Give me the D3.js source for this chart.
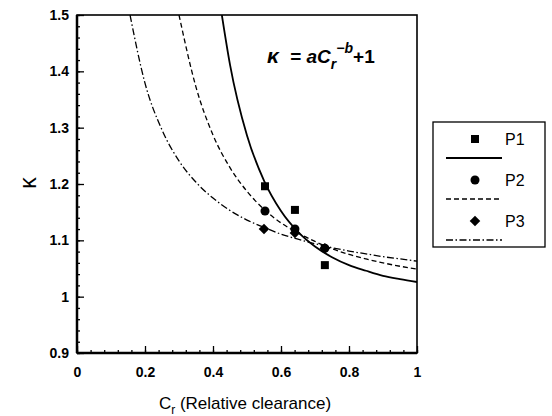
<!DOCTYPE html>
<html>
<head>
<meta charset="utf-8">
<script src="https://cdn.jsdelivr.net/npm/d3@7"></script>
<style>
  body { margin: 0; background: #fff; }
  text { font-family: "Liberation Sans", Arial, sans-serif; fill: #000; }
</style>
</head>
<body>
<svg id="graph" width="552" height="416"></svg>
<script>
(function() {
// measured points (relative clearance, kappa)
const p1 = [[0.553, 1.196], [0.641, 1.154], [0.729, 1.056]];
const p2 = [[0.553, 1.152], [0.641, 1.120], [0.729, 1.086]];
const p3 = [[0.550, 1.120], [0.641, 1.113], [0.729, 1.086]];

// fitted curves
const fit1 = [[0.426, 1.5], [0.45, 1.412], [0.5, 1.286], [0.55, 1.206], [0.6, 1.152], [0.65, 1.115],
  [0.7, 1.089], [0.75, 1.070], [0.8, 1.056], [0.85, 1.046], [0.9, 1.037], [0.95, 1.031], [1.0, 1.026]];
const fit2 = [[0.30, 1.5], [0.35, 1.372], [0.4, 1.287], [0.45, 1.229], [0.5, 1.187], [0.55, 1.155],
  [0.6, 1.131], [0.65, 1.113], [0.7, 1.098], [0.75, 1.085], [0.8, 1.075], [0.85, 1.067], [0.9, 1.060],
  [0.95, 1.054], [1.0, 1.049]];
const fit3 = [[0.156, 1.5], [0.2, 1.379], [0.25, 1.296], [0.3, 1.241], [0.35, 1.203], [0.4, 1.175],
  [0.45, 1.153], [0.5, 1.136], [0.55, 1.123], [0.6, 1.111], [0.65, 1.102], [0.7, 1.094], [0.75, 1.087],
  [0.8, 1.081], [0.85, 1.076], [0.9, 1.071], [0.95, 1.067], [1.0, 1.063]];

const xTicks = [0, 0.2, 0.4, 0.6, 0.8, 1];
const yTicks = [0.9, 1, 1.1, 1.2, 1.3, 1.4, 1.5];
const names = ['P1', 'P2', 'P3'];

const svg = d3.select('#graph');
const x0 = 77, x1 = 417, y0 = 15, y1 = 353;

const x = d3.scaleLinear().domain([0, 1]).range([x0, x1]);
const y = d3.scaleLinear().domain([0.9, 1.5]).range([y1, y0]);

svg.append('defs').append('clipPath').attr('id', 'clip')
  .append('rect').attr('x', x0).attr('y', y0).attr('width', x1 - x0).attr('height', y1 - y0);

// minor ticks
const yMinor = d3.range(0.9, 1.5001, 0.02);
const xMinor = d3.range(0, 1.0001, 0.04);

svg.append('g')
  .attr('transform', `translate(${x0},0)`)
  .call(d3.axisRight(y).tickValues(yMinor).tickSize(3).tickFormat(''))
  .call(g => g.select('.domain').remove());
svg.append('g')
  .attr('transform', `translate(0,${y1})`)
  .call(d3.axisTop(x).tickValues(xMinor).tickSize(3).tickFormat(''))
  .call(g => g.select('.domain').remove());

// major ticks
svg.append('g')
  .attr('class', 'axis')
  .attr('transform', `translate(${x0},0)`)
  .call(d3.axisRight(y).tickValues(yTicks).tickSize(7).tickFormat(d => d3.format('~g')(d)))
  .call(g => g.select('.domain').remove())
  .call(g => g.selectAll('text').attr('x', -8).attr('text-anchor', 'end')
    .style('font-size', '14px').style('font-weight', 'bold'));
svg.append('g')
  .attr('class', 'axis')
  .attr('transform', `translate(0,${y1})`)
  .call(d3.axisTop(x).tickValues(xTicks).tickSize(7).tickFormat(d => d3.format('~g')(d)))
  .call(g => g.select('.domain').remove())
  .call(g => g.selectAll('text').attr('y', 20).attr('dy', '0.32em')
    .style('font-size', '14px').style('font-weight', 'bold'));

svg.selectAll('.tick line').attr('stroke', '#000').attr('stroke-width', 1.3);

// frame
svg.append('rect')
  .attr('x', x0).attr('y', y0).attr('width', x1 - x0).attr('height', y1 - y0)
  .attr('fill', 'none').attr('stroke', '#000').attr('stroke-width', 1.6);
svg.append('line').attr('x1', x0).attr('x2', x0).attr('y1', y0).attr('y2', y1)
  .attr('stroke', '#000').attr('stroke-width', 2.5);
svg.append('line').attr('x1', x0).attr('x2', x1).attr('y1', y1).attr('y2', y1)
  .attr('stroke', '#000').attr('stroke-width', 2.5);

// curves
const line = d3.line()
  .x(d => x(d[0]))
  .y(d => y(d[1]))
  .curve(d3.curveMonotoneX);

const styles = [
  { dash: null, width: 1.8 },
  { dash: '5,3', width: 1.3 },
  { dash: '7,2.5,1.5,2.5', width: 1.3 }
];

[fit1, fit2, fit3].forEach((f, i) => {
  svg.append('path')
    .attr('clip-path', 'url(#clip)')
    .attr('d', line(f))
    .attr('fill', 'none')
    .attr('stroke', '#000')
    .attr('stroke-width', styles[i].width)
    .attr('stroke-dasharray', styles[i].dash);
});

// markers (diamond = square turned 45 degrees)
const symbols = [
  d3.symbol().type(d3.symbolSquare).size(64),
  d3.symbol().type(d3.symbolCircle).size(64),
  d3.symbol().type(d3.symbolSquare).size(56)
];
const rot = [0, 0, 45];

[p1, p2, p3].forEach((pts, i) => {
  svg.append('g').selectAll('path')
    .data(pts)
    .enter()
    .append('path')
    .attr('transform', d => `translate(${x(d[0])},${y(d[1])}) rotate(${rot[i]})`)
    .attr('d', symbols[i]())
    .attr('fill', '#000');
});

// formula
const formula = svg.append('text')
  .attr('x', 267).attr('y', 63)
  .style('font-size', '19px').style('font-weight', 'bold').style('font-style', 'italic');
formula.append('tspan').style('font-size', '21px').text('κ');
formula.append('tspan').attr('dx', 6).style('font-style', 'normal').text(' = ');
formula.append('tspan').text('aC');
formula.append('tspan').attr('dy', 6).style('font-size', '14px').text('r');
formula.append('tspan').attr('dy', -16).style('font-size', '14px').text('−b');
formula.append('tspan').attr('dy', 10).style('font-style', 'normal').text('+1');

// axis titles
const xt = svg.append('text')
  .attr('x', 245).attr('y', 409)
  .attr('text-anchor', 'middle')
  .style('font-size', '17px');
xt.append('tspan').text('C');
xt.append('tspan').attr('dy', 5).style('font-size', '12px').text('r');
xt.append('tspan').attr('dy', -5).text(' (Relative clearance)');

svg.append('text')
  .attr('transform', 'translate(28,183) rotate(-90)')
  .attr('text-anchor', 'middle')
  .attr('dy', '0.35em')
  .style('font-size', '23px')
  .text('κ');

// legend
const lg = svg.append('g');
lg.append('rect')
  .attr('x', 433).attr('y', 122).attr('width', 112).attr('height', 125)
  .attr('fill', '#fff').attr('stroke', '#000').attr('stroke-width', 1.3);

names.forEach((n, i) => {
  const my = 139 + i * 41;
  lg.append('path')
    .attr('transform', `translate(475,${my}) rotate(${rot[i]})`)
    .attr('d', symbols[i]())
    .attr('fill', '#000');
  lg.append('text')
    .attr('x', 505).attr('y', my).attr('dy', '0.35em')
    .style('font-size', '16px')
    .text(n);
  lg.append('line')
    .attr('x1', 446).attr('x2', 502)
    .attr('y1', my + 19).attr('y2', my + 19)
    .attr('stroke', '#000')
    .attr('stroke-width', styles[i].width)
    .attr('stroke-dasharray', styles[i].dash);
});

})();
</script>
</body>
</html>
